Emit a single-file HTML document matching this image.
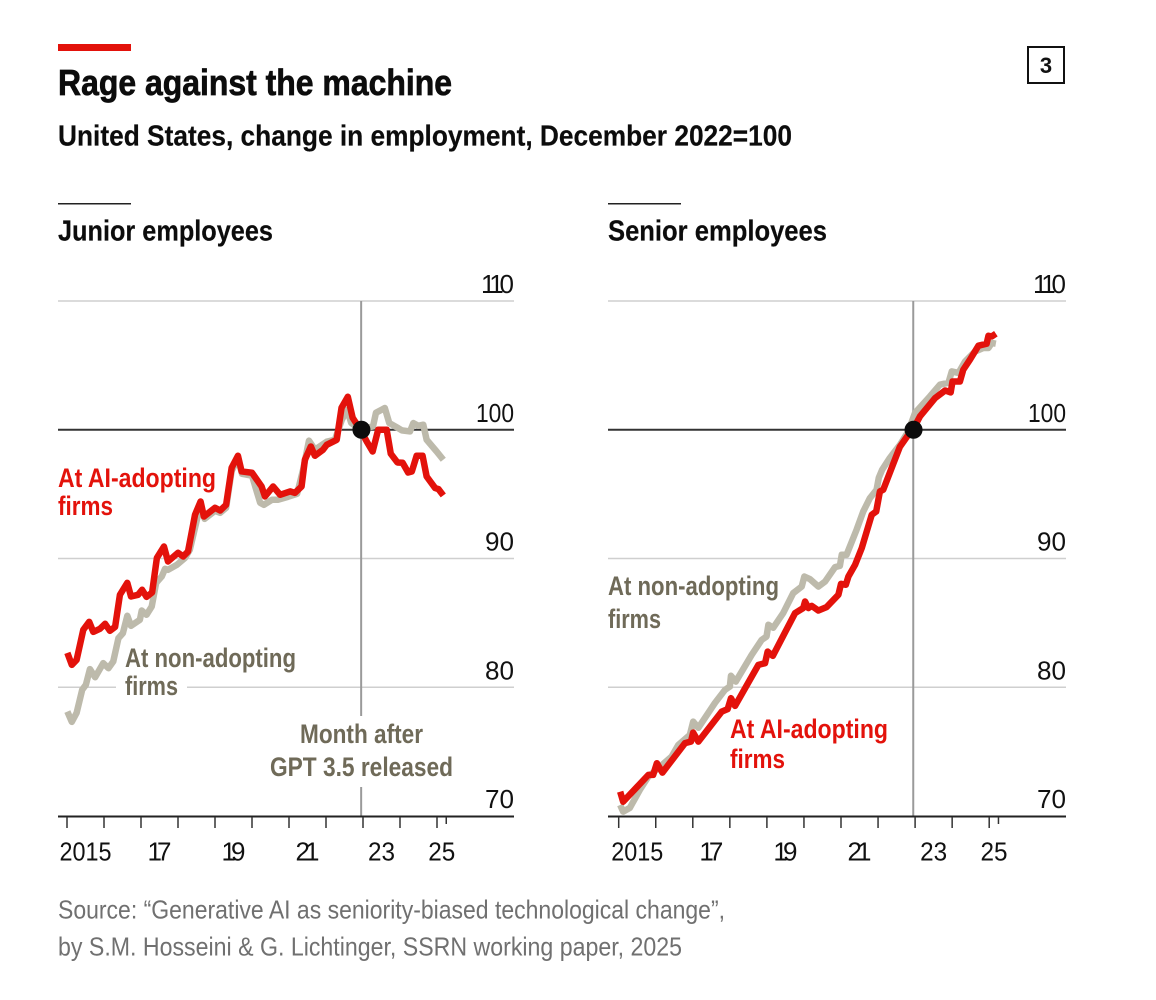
<!DOCTYPE html>
<html lang="en">
<head>
<meta charset="utf-8">
<title>Rage against the machine</title>
<style>
html,body{margin:0;padding:0;background:#fff;}
svg{display:block;font-family:"Liberation Sans",Arial,sans-serif;}
.b{font-weight:bold;}
.title{stroke:#0c0c0c;stroke-width:.7px;}
.sub{stroke:#0c0c0c;stroke-width:.2px;}
.red{fill:#e3120b;font-weight:bold;font-size:26.5px;}
.brn{fill:#6f6a58;font-weight:bold;font-size:26.5px;}
.src{fill:#707070;font-size:26px;}
</style>
</head>
<body>
<svg id="chart" width="1156" height="1000" viewBox="0 0 1156 1000" xmlns="http://www.w3.org/2000/svg">
  <rect width="1156" height="1000" fill="#fff"/>
  <rect x="58" y="44" width="73" height="7" fill="#e3120b"/>
  <text class="b title" x="58" y="95" font-size="36" fill="#0c0c0c" textLength="394" lengthAdjust="spacingAndGlyphs">Rage against the machine</text>
  <text class="b sub" x="58" y="145.5" font-size="28.5" fill="#0c0c0c" textLength="734" lengthAdjust="spacingAndGlyphs">United States, change in employment, December 2022=100</text>
  <rect x="1028" y="47" width="36" height="36" fill="#fff" stroke="#111" stroke-width="2"/>
  <text class="b" x="1046" y="73" font-size="22" fill="#111" text-anchor="middle">3</text>

  <rect x="58" y="203" width="73" height="1.5" fill="#222"/>
  <text class="b sub" x="58" y="240.5" font-size="28.5" fill="#0c0c0c" textLength="215" lengthAdjust="spacingAndGlyphs">Junior employees</text>
  <rect x="608" y="203" width="73" height="1.5" fill="#222"/>
  <text class="b sub" x="608" y="240.5" font-size="28.5" fill="#0c0c0c" textLength="219" lengthAdjust="spacingAndGlyphs">Senior employees</text>

  <g id="panel-left"></g>
  <g id="panel-right"></g>

  <text class="red" x="58" y="487" textLength="158" lengthAdjust="spacingAndGlyphs">At AI-adopting</text>
  <text class="red" x="58" y="515" textLength="55" lengthAdjust="spacingAndGlyphs">firms</text>
  <text class="brn" x="125" y="667" textLength="171" lengthAdjust="spacingAndGlyphs">At non-adopting</text>
  <text class="brn" x="125" y="695" textLength="53" lengthAdjust="spacingAndGlyphs">firms</text>
  <text class="brn" x="300" y="743" textLength="123" lengthAdjust="spacingAndGlyphs">Month after</text>
  <text class="brn" x="270" y="776" textLength="183" lengthAdjust="spacingAndGlyphs">GPT 3.5 released</text>
  <text class="brn" x="608" y="595" textLength="171" lengthAdjust="spacingAndGlyphs">At non-adopting</text>
  <text class="brn" x="608" y="628" textLength="53" lengthAdjust="spacingAndGlyphs">firms</text>
  <text class="red" x="730" y="738" textLength="158" lengthAdjust="spacingAndGlyphs">At AI-adopting</text>
  <text class="red" x="730" y="768" textLength="55" lengthAdjust="spacingAndGlyphs">firms</text>

  <text class="src" x="58" y="918.5" textLength="667" lengthAdjust="spacingAndGlyphs">Source: “Generative AI as seniority-biased technological change”,</text>
  <text class="src" x="58" y="955.5" textLength="624" lengthAdjust="spacingAndGlyphs">by S.M. Hosseini &amp; G. Lichtinger, SSRN working paper, 2025</text>
</svg>
<script>
// Data: decimal year + index value
const juniorAdoptingYears = [2015.01,2015.13,2015.26,2015.44,2015.60,2015.71,2015.89,2016.03,2016.16,2016.30,2016.43,2016.63,2016.73,2016.92,2017.03,2017.15,2017.30,2017.43,2017.62,2017.73,2018.00,2018.14,2018.27,2018.46,2018.61,2018.70,2019.00,2019.14,2019.30,2019.45,2019.62,2019.72,2020.00,2020.26,2020.35,2020.57,2020.76,2021.03,2021.16,2021.34,2021.43,2021.59,2021.70,2021.92,2022.02,2022.29,2022.42,2022.59,2022.72,2022.92,2023.10,2023.26,2023.41,2023.64,2023.75,2023.93,2024.07,2024.22,2024.32,2024.45,2024.61,2024.72,2024.95,2025.04,2025.17];
const juniorAdoptingValues = [82.67,81.74,82.13,84.46,85.08,84.30,84.54,84.93,84.38,84.69,87.18,88.11,87.05,87.18,87.57,87.02,87.36,90.05,90.93,89.77,90.44,90.16,90.54,93.40,94.43,93.26,93.94,93.73,94.17,97.05,97.98,96.76,96.66,95.59,94.82,95.59,94.95,95.21,95.10,95.59,97.67,98.70,97.98,98.45,98.83,99.22,101.71,102.56,100.93,100.05,99.09,98.31,100,100,98.14,97.46,97.44,96.68,96.76,97.98,97.98,96.37,95.47,95.39,94.90];
const juniorOtherYears = [2015.01,2015.13,2015.26,2015.41,2015.51,2015.62,2015.76,2015.98,2016.12,2016.25,2016.39,2016.51,2016.63,2016.73,2016.97,2017.02,2017.15,2017.29,2017.41,2017.56,2017.65,2017.73,2017.97,2018.19,2018.32,2018.51,2018.61,2018.72,2019.00,2019.14,2019.30,2019.45,2019.62,2019.73,2020.00,2020.22,2020.32,2020.54,2020.70,2020.97,2021.22,2021.38,2021.54,2021.70,2022.02,2022.24,2022.43,2022.57,2022.68,2022.92,2023.27,2023.35,2023.59,2023.71,2023.95,2024.05,2024.27,2024.36,2024.49,2024.63,2024.72,2024.99,2025.17];
const juniorOtherValues = [78.11,77.31,78.01,79.80,80.19,81.41,80.78,81.87,81.48,82.00,83.81,84.20,85.55,84.77,85.24,85.96,85.63,86.27,88.11,88.60,89.20,89.12,89.51,90.05,90.68,93.00,94.17,93.08,93.70,93.55,93.94,96.81,97.75,96.58,96.43,94.33,94.17,94.56,94.56,94.79,95.03,96.89,99.15,98.45,99.07,99.22,100.78,101.55,100.54,100,100.26,101.32,101.69,100.52,100.13,99.95,99.87,100.52,100.31,100.39,99.22,98.31,97.67];
const seniorAdoptingYears = [2015.04,2015.12,2015.80,2015.93,2016.03,2016.18,2016.79,2016.95,2017.01,2017.15,2017.78,2017.94,2018.03,2018.14,2018.77,2018.95,2019.02,2019.16,2019.76,2019.98,2020.03,2020.12,2020.21,2020.39,2020.61,2020.93,2021.00,2021.13,2021.20,2021.38,2021.56,2021.83,2021.95,2022.05,2022.14,2022.40,2022.59,2022.78,2022.95,2023.13,2023.54,2023.81,2023.96,2024.01,2024.21,2024.30,2024.48,2024.71,2024.93,2024.98,2025.07,2025.18];
const seniorAdoptingValues = [71.89,71.11,73.19,73.19,74.10,73.37,75.66,75.78,76.48,75.78,78.11,78.30,79.15,78.55,81.74,81.87,82.77,82.44,85.76,86.15,86.66,86.15,86.32,85.96,86.22,87.18,88.03,87.96,88.60,89.51,90.81,93.40,93.65,95.21,95.34,97.28,98.68,99.46,100.05,101.03,102.46,103.05,102.90,103.75,103.75,104.66,105.44,106.53,106.68,107.30,107.25,107.46];
const seniorOtherYears = [2015.04,2015.12,2015.30,2015.57,2015.80,2016.11,2016.43,2016.61,2016.92,2017.01,2017.15,2017.60,2017.87,2018.00,2018.03,2018.16,2018.59,2018.86,2018.99,2019.04,2019.17,2019.44,2019.71,2019.94,2020.01,2020.16,2020.39,2020.57,2020.84,2020.97,2021.02,2021.15,2021.42,2021.60,2021.78,2021.96,2022.02,2022.11,2022.32,2022.59,2022.81,2023.00,2023.40,2023.67,2023.90,2023.99,2024.17,2024.35,2024.62,2024.84,2024.98,2025.07,2025.18];
const seniorOtherValues = [70.86,70.34,70.63,72.03,73.06,73.82,74.62,75.52,76.30,77.33,76.85,78.79,79.80,80.05,80.89,80.44,82.52,83.68,83.94,84.85,84.62,85.76,87.31,87.82,88.60,88.40,87.82,88.21,89.33,89.43,90.29,90.29,92.23,93.65,94.69,95.34,96.27,96.89,97.82,98.83,99.84,101.32,102.59,103.50,103.65,104.53,104.41,105.31,106.08,106.35,106.35,106.74,106.68];
const yTicks = [110,100,90,80,70];
const xTickYears = [2015,2016,2017,2018,2019,2020,2021,2022,2023,2024,2025];
const xEndTick = 2025.25;
const xLabelYears = [2015.5,2017.5,2019.5,2021.5,2023.5,2025.13];
const xLabelTexts = ['2015','17','19','21','23','25'];
const referenceYear = 2022.95;
const referenceValue = 100;

const SVGNS = 'http://www.w3.org/2000/svg';
function yScale(v){ return 816 - (v - 70) * 12.875; }

function mk(parent, tag, attrs){
  const el = document.createElementNS(SVGNS, tag);
  for (const k in attrs) el.setAttribute(k, attrs[k]);
  parent.appendChild(el);
  return el;
}

function drawPanel(g, cfg){
  const xScale = yr => cfg.x0 + (yr - 2015) * cfg.pxPerYear;
  // horizontal grid
  yTicks.forEach(v => {
    if (v === 70) return;
    const line = mk(g, 'line', {x1:cfg.left, x2:cfg.right, y1:yScale(v), y2:yScale(v),
      stroke: v === referenceValue ? '#333' : '#cfcfcf', 'stroke-width': v === referenceValue ? 2 : 1.5});
    
    
  });
  // y tick labels
  yTicks.forEach(v => {
    const t = mk(g, 'text', {x:cfg.right, y:yScale(v) - 8, 'text-anchor':'end', 'font-size':26, fill:'#111',
      textLength: v === 110 ? 33 : (v === 100 ? 38 : 29),
      lengthAdjust: v === 110 ? 'spacing' : 'spacingAndGlyphs'});
    t.textContent = v;
    
    
  });
  // white gap behind direct label
  if (cfg.gridGap) {
    const gap = mk(g, 'rect', {x:cfg.gridGap[0], y:yScale(80) - 4, width:cfg.gridGap[1] - cfg.gridGap[0], height:8, fill:'#fff'});
    
    
  }
  // vertical reference line
  const refX = xScale(referenceYear);
  const segs = cfg.refSegments;
  segs.forEach(s => {
    const rl = mk(g, 'line', {x1:refX, x2:refX, y1:s[0], y2:s[1], stroke:'#9a9a9a', 'stroke-width':2});
    
    
  });
  // series
  const path = (ys, vs) => ys.map((yr, i) => (i ? 'L' : 'M') + xScale(yr).toFixed(2) + ' ' + yScale(vs[i]).toFixed(2)).join('');
  const grey = mk(g, 'path', {d:path(cfg.otherYears, cfg.otherValues), fill:'none', stroke:'#bdbaab', 'stroke-width':6.5, 'stroke-linejoin':'round'});
  
  
  const red = mk(g, 'path', {d:path(cfg.adoptYears, cfg.adoptValues), fill:'none', stroke:'#e3120b', 'stroke-width':6.5, 'stroke-linejoin':'round'});
  
  
  // marker
  const dot = mk(g, 'circle', {cx:refX + 0.3, cy:yScale(referenceValue), r:9, fill:'#0c0c0c'});
  
  
  // x axis
  const axis = mk(g, 'line', {x1:cfg.left, x2:cfg.right, y1:816.5, y2:816.5, stroke:'#222', 'stroke-width':2});
  
  
  xTickYears.forEach(yr => {
    const tk = mk(g, 'line', {x1:xScale(yr), x2:xScale(yr), y1:817, y2:828, stroke:'#333', 'stroke-width':1.5});
    
    
  });
  const endTk = mk(g, 'line', {x1:xScale(xEndTick), x2:xScale(xEndTick), y1:817, y2:824, stroke:'#333', 'stroke-width':1.5});
  
  
  xLabelYears.forEach((yr, i) => {
    const hasOne = i >= 1 && i <= 3;
    const lab = mk(g, 'text', {x:xScale(yr), y:860.5, 'text-anchor':'middle', 'font-size':26, fill:'#111',
      textLength: i === 0 ? 52 : (i >= 4 ? 27 : 24),
      lengthAdjust: hasOne ? 'spacing' : 'spacingAndGlyphs'});
    lab.textContent = xLabelTexts[i];
    
    
  });
}

drawPanel(document.getElementById('panel-left'), {
  x0:67, pxPerYear:37, left:58, right:514, gridGap:[116,187], refSegments:[[301,716],[787,816]],
  adoptYears:juniorAdoptingYears, adoptValues:juniorAdoptingValues,
  otherYears:juniorOtherYears, otherValues:juniorOtherValues
});
drawPanel(document.getElementById('panel-right'), {
  x0:618.7, pxPerYear:37.05, left:608, right:1066, gridGap:null, refSegments:[[301,816]],
  adoptYears:seniorAdoptingYears, adoptValues:seniorAdoptingValues,
  otherYears:seniorOtherYears, otherValues:seniorOtherValues
});
</script>
</body>
</html>
